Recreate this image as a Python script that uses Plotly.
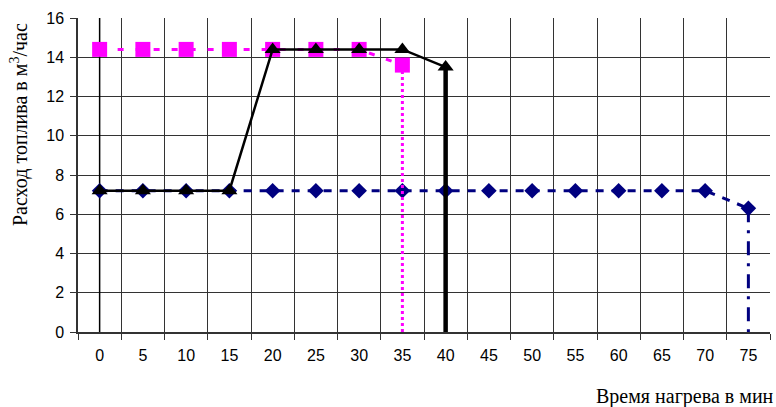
import plotly.graph_objects as go

time_min = [0, 5, 10, 15, 20, 25, 30, 35, 40, 45, 50, 55, 60, 65, 70, 75]
x_labels = [str(t) for t in time_min]

# series 1 (navy diamonds)
diam_x = time_min
diam_y = [7.2] * 15 + [6.3]
# series 2 (magenta squares)
sq_x = [0, 5, 10, 15, 20, 25, 30, 35]
sq_y = [14.4, 14.4, 14.4, 14.4, 14.4, 14.4, 14.4, 13.6]
# series 3 (black triangles)
tri_x = [0, 5, 10, 15, 20, 25, 30, 35, 40]
tri_y = [7.2, 7.2, 7.2, 7.2, 14.4, 14.4, 14.4, 14.4, 13.5]

y_ticks = [0, 2, 4, 6, 8, 10, 12, 14, 16]
grid_x = [t - 2.5 for t in time_min] + [77.5]

fig = go.Figure()

# thin vertical line at x=0
fig.add_trace(go.Scatter(x=[0, 0], y=[0, 16], mode="lines",
                         line=dict(color="black", width=1.5), hoverinfo="skip"))

# navy diamonds
fig.add_trace(go.Scatter(x=diam_x, y=diam_y, mode="lines+markers",
                         line=dict(color="#000080", width=3, dash="8px,8px"),
                         marker=dict(symbol="diamond", size=12, color="#000080")))
fig.add_trace(go.Scatter(x=[diam_x[-1], diam_x[-1]], y=[diam_y[-1], 0], mode="lines",
                         line=dict(color="#000080", width=3, dash="14px,8px,3px,8px")))

# magenta squares
fig.add_trace(go.Scatter(x=sq_x, y=sq_y, mode="lines+markers",
                         line=dict(color="#FF00FF", width=3, dash="6px,12px"),
                         marker=dict(symbol="square", size=15, color="#FF00FF")))
fig.add_trace(go.Scatter(x=[sq_x[-1], sq_x[-1]], y=[sq_y[-1], 0], mode="lines",
                         line=dict(color="#FF00FF", width=3, dash="3px,3px")))

# black triangles
fig.add_trace(go.Scatter(x=tri_x, y=tri_y, mode="lines+markers",
                         line=dict(color="black", width=2.5),
                         marker=dict(symbol="triangle-up", size=14, color="black")))
fig.add_trace(go.Scatter(x=[tri_x[-1], tri_x[-1]], y=[tri_y[-1], 0], mode="lines",
                         line=dict(color="black", width=4.5)))

fig.update_layout(
    width=776, height=407,
    margin=dict(l=78, r=6, t=18, b=75),
    paper_bgcolor="white", plot_bgcolor="white",
    showlegend=False,
    font=dict(family="Liberation Sans, Arial", size=16, color="black"),
    xaxis=dict(
        range=[-2.5, 77.5],
        tickmode="array", tickvals=time_min, ticktext=x_labels,
        ticks="outside", ticklen=8, tickcolor="rgba(0,0,0,0)",
        showgrid=False, zeroline=False,
        showline=True, linecolor="#333", linewidth=1.5,
        minor=dict(tickmode="array", tickvals=grid_x, ticks="outside", ticklen=6,
                   tickcolor="#333", showgrid=True, gridcolor="#333", gridwidth=1),
        fixedrange=True,
    ),
    yaxis=dict(
        range=[0, 16],
        tickmode="array", tickvals=y_ticks,
        ticks="outside", ticklen=6, tickcolor="#333",
        showgrid=True, gridcolor="#333", gridwidth=1,
        zeroline=False, showline=True, linecolor="#333", linewidth=1.5,
        ticklabelstandoff=3,
        fixedrange=True,
    ),
    annotations=[
        dict(text="Расход топлива в м<sup>3</sup>/час", textangle=-90,
             xref="paper", yref="paper", x=-78/692 + 19/692, y=(332 - 125) / 314,
             xanchor="center", yanchor="middle", showarrow=False,
             font=dict(family="Liberation Serif, Times New Roman", size=20)),
        dict(text="Время нагрева в мин",
             xref="paper", yref="paper", x=1 + 6/692, y=-(396 - 332) / 314,
             xanchor="right", yanchor="middle", showarrow=False,
             font=dict(family="Liberation Serif, Times New Roman", size=20)),
    ],
)

fig.write_html("out.html")
